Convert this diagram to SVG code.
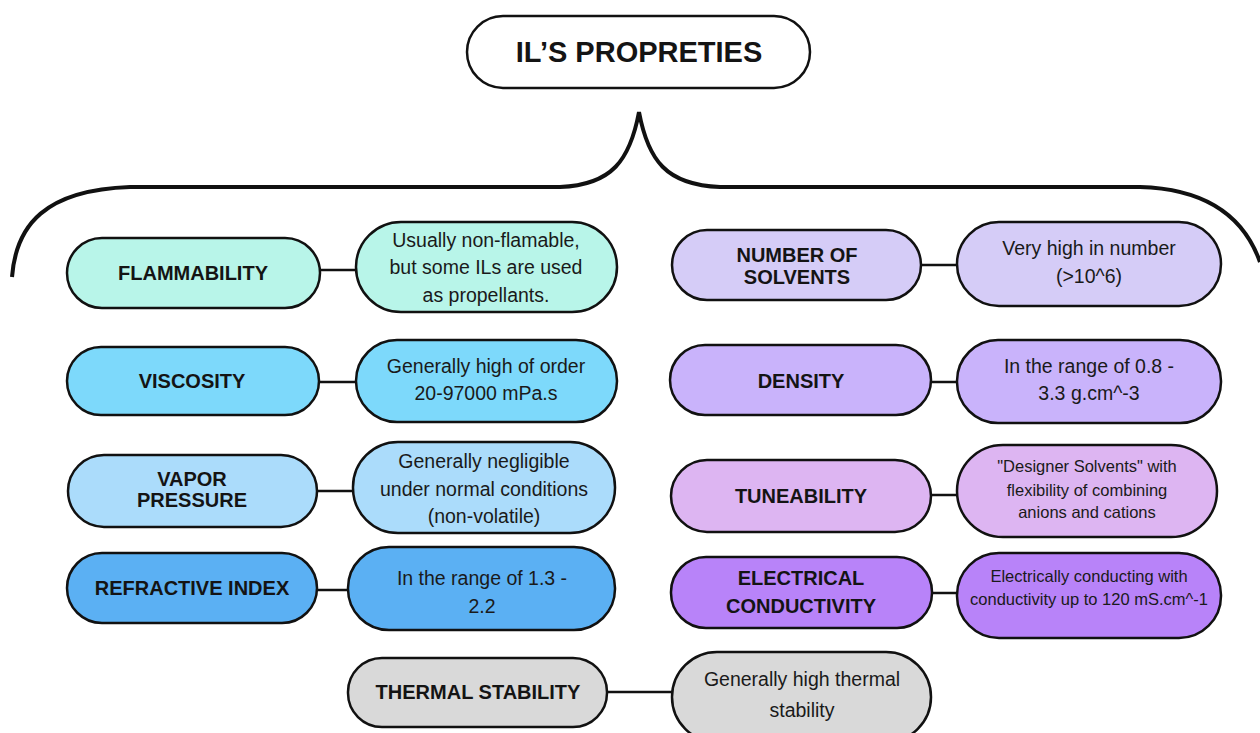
<svg xmlns="http://www.w3.org/2000/svg" width="1260" height="733" viewBox="0 0 1260 733">
<style>
.box{stroke:#111;stroke-width:2.5}
.lbl{font-family:"Liberation Sans",Arial,sans-serif;font-weight:bold;font-size:20px;fill:#141414;text-anchor:middle;dominant-baseline:central}
.dsc{font-family:"Liberation Sans",Arial,sans-serif;font-size:19.5px;fill:#1a1a1a;text-anchor:middle;dominant-baseline:central}
.sm{font-size:16.5px}
.con{stroke:#111;stroke-width:2.5;fill:none}
</style>
<rect width="1260" height="733" fill="#fff"/>
<g id="title">
<rect class="box" x="467" y="16" width="343" height="72" rx="36" fill="#fff"/>
<text class="lbl" x="639" y="52" style="font-size:29px">IL’S PROPRETIES</text>
</g>
<g id="connectors">
<path class="con" style="stroke-width:4" d="M12,277 C16,225 45,190 130,187 L560,187 C612,185 630,160 639,112 C648,160 666,185 720,187 L1140,187 C1210,189 1245,220 1260,262"/>
<line class="con" x1="320" y1="270" x2="356" y2="270"/>
<line class="con" x1="319" y1="382" x2="356" y2="382"/>
<line class="con" x1="317" y1="491" x2="353" y2="491"/>
<line class="con" x1="317" y1="590" x2="348" y2="590"/>
<line class="con" x1="607" y1="692" x2="672" y2="692"/>
<line class="con" x1="921" y1="265" x2="957" y2="265"/>
<line class="con" x1="931" y1="382" x2="957" y2="382"/>
<line class="con" x1="931" y1="495" x2="957" y2="495"/>
<line class="con" x1="932" y1="593" x2="957" y2="593"/>
</g>
<g id="flammability">
<rect class="box" x="67" y="238" width="253" height="70" rx="35" fill="#b8f5e9"/>
<text class="lbl" x="193" y="273">FLAMMABILITY</text>
</g>
<g id="flammability-desc">
<rect class="box" x="356" y="222" width="261" height="90" rx="45" fill="#b8f5e9"/>
<text class="dsc" x="486" y="240">Usually non-flamable,</text>
<text class="dsc" x="486" y="267">but some ILs are used</text>
<text class="dsc" x="486" y="295">as propellants.</text>
</g>
<g id="viscosity">
<rect class="box" x="67" y="347" width="252" height="68" rx="34" fill="#7dd9fb"/>
<text class="lbl" x="192" y="381">VISCOSITY</text>
</g>
<g id="viscosity-desc">
<rect class="box" x="356" y="340" width="261" height="82" rx="41" fill="#7dd9fb"/>
<text class="dsc" x="486" y="366">Generally high of order</text>
<text class="dsc" x="486" y="393">20-97000 mPa.s</text>
</g>
<g id="vapor">
<rect class="box" x="68" y="455" width="249" height="72" rx="36" fill="#abdcfb"/>
<text class="lbl" x="192" y="479">VAPOR</text>
<text class="lbl" x="192" y="500">PRESSURE</text>
</g>
<g id="vapor-desc">
<rect class="box" x="353" y="442" width="262" height="91" rx="45" fill="#abdcfb"/>
<text class="dsc" x="484" y="461">Generally negligible</text>
<text class="dsc" x="484" y="489">under normal conditions</text>
<text class="dsc" x="484" y="516">(non-volatile)</text>
</g>
<g id="refractive">
<rect class="box" x="67" y="553" width="250" height="70" rx="35" fill="#5bb0f3"/>
<text class="lbl" x="192" y="588">REFRACTIVE INDEX</text>
</g>
<g id="refractive-desc">
<rect class="box" x="348" y="547" width="267" height="83" rx="41" fill="#5bb0f3"/>
<text class="dsc" x="482" y="578">In the range of 1.3 -</text>
<text class="dsc" x="482" y="606">2.2</text>
</g>
<g id="thermal">
<rect class="box" x="348" y="658" width="259" height="69" rx="34" fill="#d9d9d9"/>
<text class="lbl" x="478" y="692">THERMAL STABILITY</text>
</g>
<g id="thermal-desc">
<rect class="box" x="672" y="652" width="259" height="90" rx="45" fill="#d9d9d9"/>
<text class="dsc" x="802" y="679">Generally high thermal</text>
<text class="dsc" x="802" y="710">stability</text>
</g>
<g id="solvents">
<rect class="box" x="672" y="230" width="249" height="70" rx="35" fill="#d5ccf7"/>
<text class="lbl" x="797" y="255">NUMBER OF</text>
<text class="lbl" x="797" y="277">SOLVENTS</text>
</g>
<g id="solvents-desc">
<rect class="box" x="957" y="222" width="264" height="84" rx="42" fill="#d5ccf7"/>
<text class="dsc" x="1089" y="248">Very high in number</text>
<text class="dsc" x="1089" y="276">(&gt;10^6)</text>
</g>
<g id="density">
<rect class="box" x="670" y="345" width="261" height="70" rx="35" fill="#c9b3fb"/>
<text class="lbl" x="801" y="381">DENSITY</text>
</g>
<g id="density-desc">
<rect class="box" x="957" y="340" width="264" height="83" rx="41" fill="#c9b3fb"/>
<text class="dsc" x="1089" y="366">In the range of 0.8 -</text>
<text class="dsc" x="1089" y="393">3.3 g.cm^-3</text>
</g>
<g id="tuneability">
<rect class="box" x="671" y="460" width="260" height="72" rx="36" fill="#ddb5f2"/>
<text class="lbl" x="801" y="496">TUNEABILITY</text>
</g>
<g id="tuneability-desc">
<rect class="box" x="957" y="445" width="260" height="92" rx="46" fill="#ddb5f2"/>
<text class="dsc sm" x="1087" y="466">"Designer Solvents" with</text>
<text class="dsc sm" x="1087" y="490">flexibility of combining</text>
<text class="dsc sm" x="1087" y="512">anions and cations</text>
</g>
<g id="electrical">
<rect class="box" x="671" y="557" width="261" height="71" rx="35" fill="#b883f9"/>
<text class="lbl" x="801" y="578">ELECTRICAL</text>
<text class="lbl" x="801" y="606">CONDUCTIVITY</text>
</g>
<g id="electrical-desc">
<rect class="box" x="957" y="553" width="264" height="85" rx="42" fill="#b883f9"/>
<text class="dsc sm" x="1089" y="576">Electrically conducting with</text>
<text class="dsc sm" x="1089" y="599">conductivity up to 120 mS.cm^-1</text>
</g>
</svg>
